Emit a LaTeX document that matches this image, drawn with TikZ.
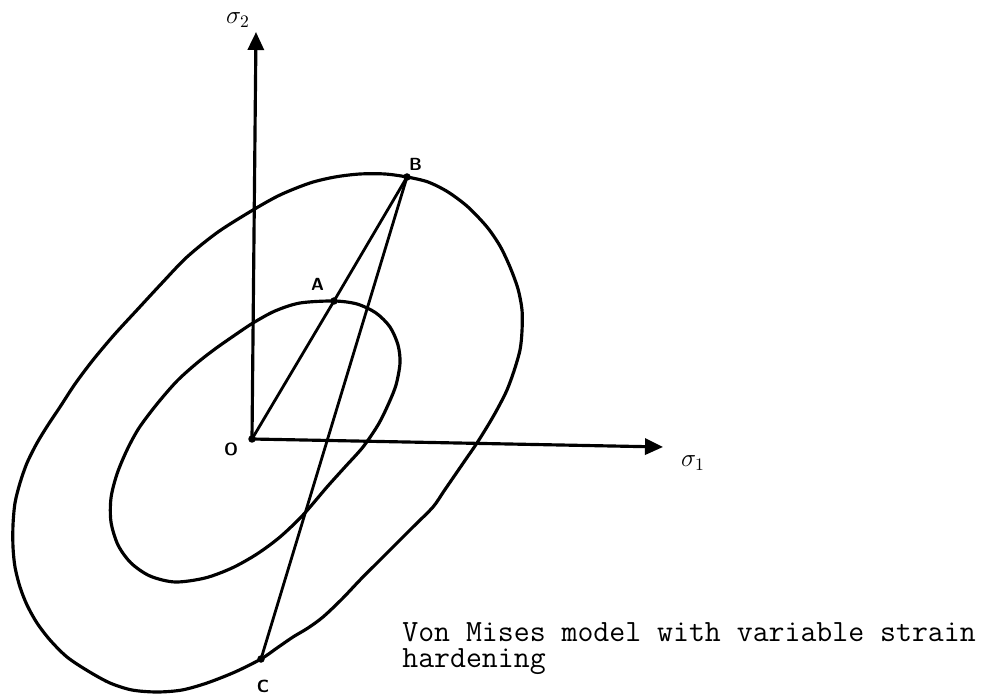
\documentclass[tikz,border=0pt]{standalone}
\usepackage{fontspec}
\usetikzlibrary{arrows.meta}

\begin{document}
\begin{tikzpicture}[
        axis/.style={line width=1.8pt, -{Triangle[length=0.36cm, width=0.32cm]}},
        surface/.style={line width=1.8pt, line join=round},
        loadline/.style={line width=1.6pt},
        statept/.style={circle, fill, inner sep=0pt, minimum size=0.15cm},
        ptlabel/.style={font=\sffamily\bfseries, inner sep=0pt}
    ]
        \useasboundingbox (-5.04,-5.14) rectangle (14.68,8.78);

        % Stress states
        \node[statept] (O) at (0,0) {};
        \node[statept] (A) at (1.64,2.76) {};
        \node[statept] (B) at (3.10,5.24) {};
        \node[statept] (C) at (0.18,-4.40) {};
        \coordinate (s1end) at (8.22,-0.16);
        \coordinate (s2end) at (0.08,8.14);

        % Axes
        \draw[axis] (O.center) -- (s1end);
        \draw[axis] (O.center) -- (s2end);

        % Initial yield surface
        \draw[surface] plot[smooth cycle] coordinates {
            (A.center) (2.10,2.70) (2.48,2.52) (2.76,2.24) (2.92,1.88)
            (2.96,1.52) (2.88,1.08) (2.72,0.68) (2.52,0.28) (2.22,-0.16)
            (1.86,-0.56) (1.50,-0.96) (1.02,-1.52) (0.56,-1.96) (0.10,-2.30)
            (-0.40,-2.58) (-0.94,-2.78) (-1.54,-2.86) (-2.04,-2.74) (-2.42,-2.48)
            (-2.68,-2.12) (-2.82,-1.66) (-2.82,-1.18) (-2.70,-0.70) (-2.50,-0.22)
            (-2.26,0.22) (-1.90,0.70) (-1.50,1.16) (-1.10,1.52) (-0.74,1.80)
            (-0.34,2.08) (0.02,2.32) (0.46,2.56) (0.96,2.72)};

        % Subsequent yield surface
        \draw[surface] plot[smooth cycle] coordinates {
            (B.center) (3.52,5.14) (3.92,4.94) (4.32,4.64) (4.70,4.24)
            (4.96,3.86) (5.16,3.44) (5.32,3.00) (5.40,2.58) (5.40,2.16)
            (5.36,1.78) (5.24,1.36) (5.10,0.98) (4.94,0.66) (4.76,0.34)
            (4.50,-0.08) (4.28,-0.40) (4.06,-0.72) (3.84,-1.04) (3.62,-1.36)
            (3.22,-1.76) (2.82,-2.16)
            (2.48,-2.50) (2.16,-2.82) (1.80,-3.20) (1.42,-3.56) (1.12,-3.78)
            (0.82,-3.96) (0.50,-4.18) (C.center) (-0.34,-4.66) (-0.90,-4.88)
            (-1.40,-5.02) (-1.90,-5.06) (-2.40,-5.02) (-2.84,-4.88) (-3.28,-4.64)
            (-3.70,-4.36) (-4.04,-4.02) (-4.30,-3.68) (-4.50,-3.32) (-4.64,-2.96)
            (-4.74,-2.56) (-4.78,-2.16) (-4.78,-1.72) (-4.74,-1.28) (-4.64,-0.88)
            (-4.50,-0.48) (-4.30,-0.08) (-4.08,0.28) (-3.84,0.64) (-3.54,1.10)
            (-3.18,1.58)
            (-2.76,2.08) (-2.30,2.58) (-1.80,3.12) (-1.30,3.64) (-0.68,4.14)
            (0.02,4.58) (0.56,4.88) (1.16,5.12) (1.66,5.24) (2.16,5.30)
            (2.66,5.30)};

        % Loading paths
        \draw[loadline] (O.center) -- (A.center) -- (B.center);
        \draw[loadline] (B.center) -- (C.center);

        % Labels
        \node[ptlabel] (Olab) at (-0.42,-0.20) {O};
        \node[ptlabel] (Alab) at (1.31,3.10) {A};
        \node[ptlabel] (Blab) at (3.27,5.49) {B};
        \node[ptlabel] (Clab) at (0.22,-4.95) {C};
        \node[font=\Large, inner sep=0pt] (s1lab) at (8.82,-0.48) {$\sigma_1$};
        \node[font=\Large, inner sep=0pt] (s2lab) at (-0.28,8.38) {$\sigma_2$};

        \node[anchor=north west, align=left, inner sep=0pt,
              font={\ttfamily\fontsize{17.6}{13}\selectfont}] (caption) at (3.0,-3.66)
            {Von Mises model with variable strain\\[2pt]hardening};
    \end{tikzpicture}
\end{document}
